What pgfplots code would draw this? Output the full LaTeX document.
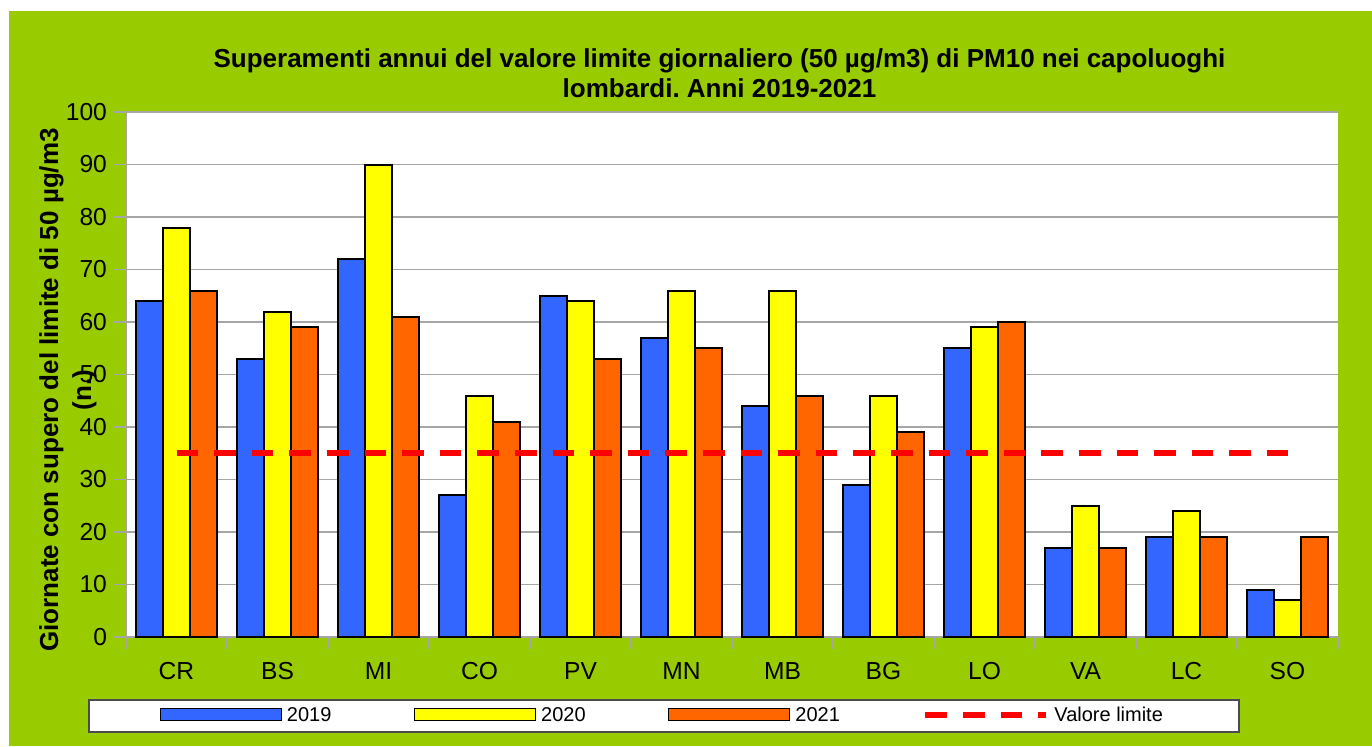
\documentclass[border=0pt]{standalone}
\usepackage{pgfplots}
\pgfplotsset{compat=1.18}
\usepackage{pgfplotstable}
\usepackage{fontspec}
\setmainfont{Liberation Sans}
\frenchspacing
\definecolor{bg}{HTML}{99CC00}
\definecolor{b19}{HTML}{3366FF}
\definecolor{y20}{HTML}{FFFF00}
\definecolor{o21}{HTML}{FF6600}
\definecolor{gridg}{HTML}{A6A6A6}

\pgfplotstableread{
x a b c
0 64 78 66
1 53 62 59
2 72 90 61
3 27 46 41
4 65 64 53
5 57 66 55
6 44 66 46
7 29 46 39
8 55 59 60
9 17 25 17
10 19 24 19
11 9 7 19
}\data

\begin{document}
\begin{tikzpicture}
\fill[white] (-63pt,-54.5pt) rectangle (623pt,318.5pt);
\fill[bg] (-58.5pt,-54.5pt) rectangle (623pt,313pt);
\begin{axis}[
  scale only axis, width=606pt, height=262.5pt,
  xmin=-0.5, xmax=11.5, ymin=0, ymax=100,
  axis background/.style={fill=white},
  axis x line=bottom, axis y line=left,
  axis line style={-, draw=gridg, line width=0.75pt},
  tick align=outside,
  tick style={draw=gridg, line width=0.75pt},
  major tick length=6pt,
  ymajorgrids, major grid style={draw=gridg, line width=0.75pt},
  ytick={0,10,...,100},
  xtick={-0.5,0.5,...,11.5}, xticklabels={},
  extra x ticks={0,1,...,11},
  extra x tick labels={CR,BS,MI,CO,PV,MN,MB,BG,LO,VA,LC,SO},
  extra x tick style={major tick length=0pt},
  ticklabel style={font=\fontsize{12.3}{14}\selectfont},
  xticklabel style={yshift=-8.5pt, text height=9pt, text depth=0pt},
  /pgf/number format/assume math mode=true,
  legend columns=4,
  legend style={at={(-0.03135,-0.1181)}, anchor=north west,
    draw=black!70, line width=0.8pt, fill=white,
    inner xsep=35.5pt, inner ysep=3.6pt,
    font=\fontsize{10}{12}\selectfont,
    column sep=0pt, cells={anchor=west},
    nodes={inner xsep=2.5pt, inner ysep=0pt, text height=7pt, text depth=2pt}},
]
\addplot[ybar, bar width=13.5pt, bar shift=-13.5pt, fill=b19, draw=black, line width=1pt,
  legend image code/.code={\draw[fill=b19, draw=black, line width=0.6pt] (0pt,-2.4pt) rectangle (60.5pt,3.6pt);}]
  table[x=x,y=a]{\data};
\addlegendentry[text width=61pt]{2019}
\addplot[ybar, bar width=13.5pt, bar shift=0pt, fill=y20, draw=black, line width=1pt,
  legend image code/.code={\draw[fill=y20, draw=black, line width=0.6pt] (0pt,-2.4pt) rectangle (60.5pt,3.6pt);}]
  table[x=x,y=b]{\data};
\addlegendentry[text width=61pt]{2020}
\addplot[ybar, bar width=13.5pt, bar shift=13.5pt, fill=o21, draw=black, line width=1pt,
  legend image code/.code={\draw[fill=o21, draw=black, line width=0.6pt] (0pt,-2.4pt) rectangle (60.5pt,3.6pt);}]
  table[x=x,y=c]{\data};
\addlegendentry[text width=61pt]{2021}
\addplot[red, line width=3pt, dash pattern=on 10.8pt off 8pt,
  legend image code/.code={\draw[red, line width=3pt, dash pattern=on 10.8pt off 8pt] (-3pt,0.6pt) -- (57.5pt,0.6pt);}]
  coordinates {(0,35) (11,35)};
\addlegendentry{Valore limite}
\end{axis}
\node[align=center, font=\bfseries\fontsize{13}{15}\selectfont] at (296.75pt,282pt)
  {Superamenti annui del valore limite giornaliero (50 µg/m3) di PM10 nei capoluoghi\\lombardi. Anni 2019-2021};
\node[rotate=90, align=center, font=\bfseries\fontsize{13}{16.5}\selectfont] at (-29pt,123.5pt)
  {Giornate con supero del limite di 50 µg/m3\\(n.)};
\end{tikzpicture}
\end{document}
